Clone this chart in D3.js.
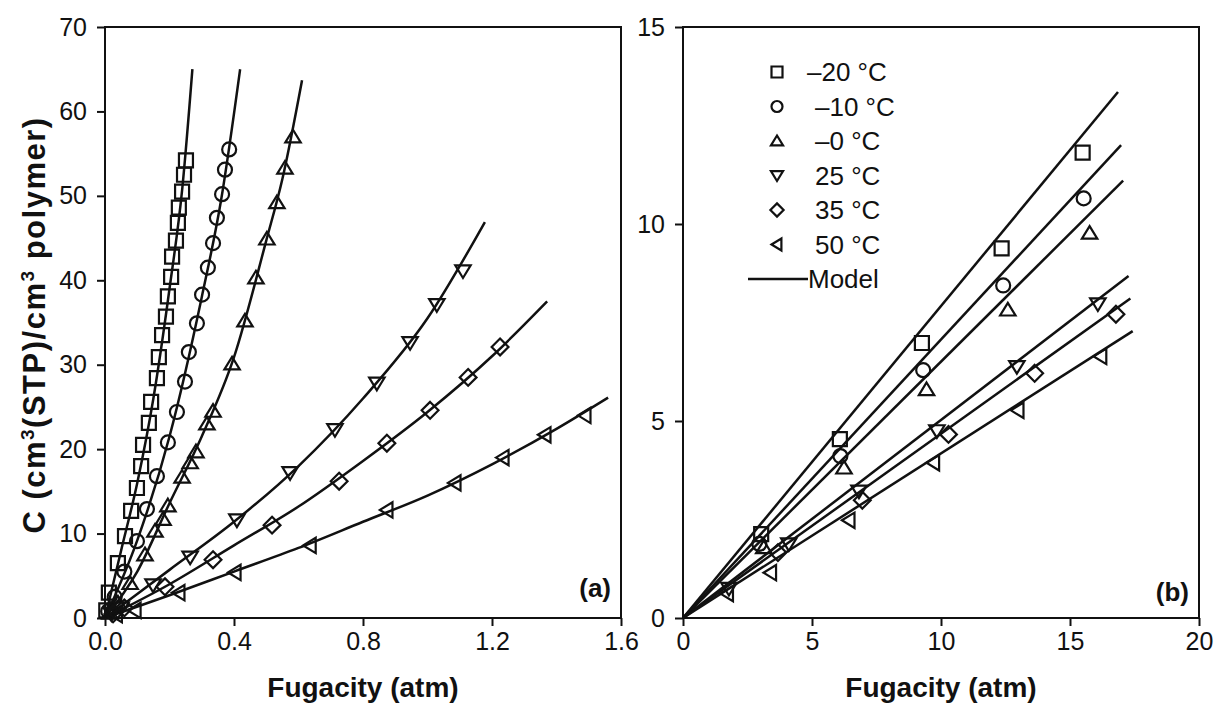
<!DOCTYPE html>
<html>
  <head>
    <meta charset="utf-8">
    <script src="https://d3js.org/d3.v7.min.js"></script>
    <style>
      body { margin: 0; background: white; }
      text { font-family: "Liberation Sans", Arial, sans-serif; fill: #111; }
      .axis text { font-size: 25px; }
      .axis path, .axis line { stroke: #111; stroke-width: 2px; }
      .frame { fill: none; stroke: #111; stroke-width: 2px; }
      .model { fill: none; stroke: #111; stroke-width: 2.5px; }
      .marker { fill: none; stroke: #111; stroke-width: 2.2px; }
    </style>
  </head>
  <body>
    <div id="chart"></div>
<script>

// legend / series
var seriesNames = ["\u201320 \u00B0C", "\u201310 \u00B0C", "\u20130 \u00B0C", "25 \u00B0C", "35 \u00B0C", "50 \u00B0C"];
var markerTypes = ["square", "circle", "up", "down", "diamond", "left"];

// panel (a): fugacity (atm) vs C
var aM20 = [[0.004,0.9],[0.012,3.0],[0.040,6.5],[0.062,9.7],[0.081,12.7],[0.099,15.4],[0.112,18.0],[0.118,20.5],[0.136,23.1],[0.143,25.6],[0.161,28.4],[0.167,30.9],[0.177,33.5],[0.189,35.7],[0.195,38.1],[0.205,40.4],[0.208,42.8],[0.220,44.7],[0.226,46.8],[0.229,48.6],[0.239,50.5],[0.245,52.5],[0.251,54.2]];
var aM10 = [[0.010,0.8],[0.030,2.5],[0.060,5.5],[0.099,9.1],[0.130,12.9],[0.161,16.8],[0.195,20.8],[0.223,24.4],[0.248,28.0],[0.260,31.5],[0.285,34.9],[0.301,38.3],[0.319,41.5],[0.335,44.4],[0.347,47.4],[0.363,50.2],[0.372,53.1],[0.385,55.5]];
var a0 = [[0.015,0.6],[0.040,1.8],[0.078,4.1],[0.124,7.5],[0.155,10.3],[0.180,11.7],[0.195,13.3],[0.239,16.7],[0.264,18.4],[0.282,19.7],[0.316,23.0],[0.335,24.5],[0.394,30.1],[0.434,35.2],[0.468,40.3],[0.502,44.9],[0.533,49.2],[0.558,53.3],[0.583,57.0]];
var a25 = [[0.020,0.5],[0.050,1.2],[0.149,3.9],[0.264,7.2],[0.409,11.6],[0.574,17.2],[0.713,22.3],[0.843,27.8],[0.946,32.6],[1.029,37.1],[1.110,41.1]];
var a35 = [[0.025,0.5],[0.060,1.2],[0.186,3.7],[0.335,6.9],[0.518,11.0],[0.726,16.2],[0.874,20.7],[1.008,24.6],[1.126,28.5],[1.225,32.1]];
var a50 = [[0.035,0.4],[0.093,0.9],[0.229,3.0],[0.403,5.4],[0.636,8.6],[0.874,12.8],[1.085,16.0],[1.234,19.0],[1.364,21.7],[1.488,24.0]];

var aModelM20 = [[0,0],[0.05,8],[0.10,16],[0.15,26],[0.20,39],[0.24,51],[0.271,65]];
var aModelM10 = [[0,0],[0.10,9.2],[0.20,21.5],[0.30,38],[0.36,49.5],[0.419,65]];
var aModel0 = [[0,0],[0.10,5.5],[0.20,13.6],[0.30,21.5],[0.40,30.9],[0.50,44.7],[0.55,52],[0.611,63.7]];
var aModel25 = [[0,0],[0.2,5.7],[0.4,11.4],[0.6,18],[0.8,26],[1.0,35.5],[1.178,46.9]];
var aModel35 = [[0,0],[0.2,4],[0.4,8.6],[0.6,13.2],[0.8,18.6],[1.0,24.4],[1.2,31],[1.371,37.5]];
var aModel50 = [[0,0],[0.2,2.7],[0.4,5.5],[0.6,8.3],[0.8,11.4],[1.0,14.5],[1.2,18.2],[1.4,22.4],[1.56,26.1]];

// panel (b)
var bM20 = [[3.03,2.13],[6.08,4.54],[9.26,6.98],[12.35,9.38],[15.49,11.81]];
var bM10 = [[2.96,1.88],[6.10,4.11],[9.31,6.29],[12.41,8.44],[15.53,10.65]];
var b0 = [[3.13,1.79],[6.24,3.81],[9.44,5.80],[12.59,7.82],[15.76,9.77]];
var b25 = [[1.78,0.75],[4.10,1.88],[6.82,3.22],[9.84,4.75],[12.94,6.38],[16.08,7.97]];
var b35 = [[3.68,1.66],[6.95,2.99],[10.29,4.66],[13.63,6.21],[16.78,7.71]];
var b50 = [[1.72,0.62],[3.39,1.15],[6.43,2.48],[9.71,3.94],[12.98,5.27],[16.19,6.64]];

var bModelM20 = [[0,0],[16.86,13.35]];
var bModelM10 = [[0,0],[16.98,12.0]];
var bModel0 = [[0,0],[17.06,11.10]];
var bModel25 = [[0,0],[17.27,8.68]];
var bModel35 = [[0,0],[17.34,8.11]];
var bModel50 = [[0,0],[17.43,7.28]];

var aXTicks = [0, 0.4, 0.8, 1.2, 1.6];
var aYTicks = [0, 10, 20, 30, 40, 50, 60, 70];
var bXTicks = [0, 5, 10, 15, 20];
var bYTicks = [0, 5, 10, 15];

var width = 1215, height = 705;

var svg = d3.select("#chart").append("svg")
  .attr("width", width)
  .attr("height", height);

function markerPath(type, s) {
  var h = s / 2;
  if (type == "square") return "M" + (-h) + "," + (-h) + "h" + s + "v" + s + "h" + (-s) + "Z";
  if (type == "circle") return "M" + h + ",0A" + h + "," + h + " 0 1,1 " + (-h) + ",0A" + h + "," + h + " 0 1,1 " + h + ",0Z";
  if (type == "up") return "M0," + (-h) + "L" + (h * 1.1) + "," + (h * 0.8) + "L" + (-h * 1.1) + "," + (h * 0.8) + "Z";
  if (type == "down") return "M0," + h + "L" + (h * 1.1) + "," + (-h * 0.8) + "L" + (-h * 1.1) + "," + (-h * 0.8) + "Z";
  if (type == "left") return "M" + (-h) + ",0L" + (h * 0.8) + "," + (-h * 1.1) + "L" + (h * 0.8) + "," + (h * 1.1) + "Z";
  if (type == "diamond") return "M0," + (-h * 1.2) + "L" + (h * 1.2) + ",0L0," + (h * 1.2) + "L" + (-h * 1.2) + ",0Z";
}

function drawPanel(p) {
  var x = d3.scaleLinear().domain(p.xDomain).range([p.left, p.right]);
  var y = d3.scaleLinear().domain(p.yDomain).range([p.bottom, p.top]);

  var g = svg.append("g");

  g.append("g")
    .attr("class", "axis")
    .attr("transform", "translate(0," + p.bottom + ")")
    .call(d3.axisBottom(x).tickValues(p.xTicks).tickSize(8).tickSizeOuter(0).tickPadding(6).tickFormat(p.xFormat))
    .call(function (a) { a.select(".domain").remove(); });

  g.append("g")
    .attr("class", "axis")
    .attr("transform", "translate(" + p.left + ",0)")
    .call(d3.axisLeft(y).tickValues(p.yTicks).tickSize(8).tickSizeOuter(0).tickPadding(10).tickFormat(d3.format("d")))
    .call(function (a) { a.select(".domain").remove(); });

  g.append("rect")
    .attr("class", "frame")
    .attr("x", p.left).attr("y", p.top)
    .attr("width", p.right - p.left).attr("height", p.bottom - p.top);

  var line = d3.line()
    .x(function (d) { return x(d[0]); })
    .y(function (d) { return y(d[1]); })
    .curve(d3.curveMonotoneX);

  p.models.forEach(function (m) {
    g.append("path").attr("class", "model").attr("d", line(m));
  });

  p.points.forEach(function (pts, i) {
    g.selectAll(null)
      .data(pts).enter()
      .append("path")
      .attr("class", "marker")
      .attr("transform", function (d) { return "translate(" + x(d[0]) + "," + y(d[1]) + ")"; })
      .attr("d", markerPath(markerTypes[i], 14));
  });

  g.append("text")
    .attr("x", (p.left + p.right) / 2)
    .attr("y", 697)
    .attr("text-anchor", "middle")
    .style("font-size", "28px")
    .style("font-weight", "bold")
    .text("Fugacity (atm)");

  g.append("text")
    .attr("x", p.right - 10)
    .attr("y", p.labelY)
    .attr("text-anchor", "end")
    .style("font-size", "26px")
    .style("font-weight", "bold")
    .text(p.label);

  return { x: x, y: y, g: g };
}

drawPanel({
  xDomain: [0, 1.6], yDomain: [0, 70],
  left: 105, right: 621, top: 27, bottom: 618,
  xTicks: aXTicks, yTicks: aYTicks, xFormat: d3.format(".1f"),
  points: [aM20, aM10, a0, a25, a35, a50],
  models: [aModelM20, aModelM10, aModel0, aModel25, aModel35, aModel50],
  label: "(a)", labelY: 597
});

var pb = drawPanel({
  xDomain: [0, 20], yDomain: [0, 15],
  left: 683, right: 1199, top: 27, bottom: 618,
  xTicks: bXTicks, yTicks: bYTicks, xFormat: d3.format("d"),
  points: [bM20, bM10, b0, b25, b35, b50],
  models: [bModelM20, bModelM10, bModel0, bModel25, bModel35, bModel50],
  label: "(b)", labelY: 601
});

// legend
var legY = d3.scalePoint().domain(d3.range(7)).range([72, 279]);
var leg = pb.g.append("g");
seriesNames.forEach(function (name, i) {
  leg.append("path")
    .attr("class", "marker")
    .attr("transform", "translate(777," + legY(i) + ")")
    .attr("d", markerPath(markerTypes[i], 11));
  leg.append("text")
    .attr("x", i == 0 ? 807 : 815)
    .attr("y", legY(i) + 9)
    .style("font-size", "26px")
    .text(name);
});
leg.append("line")
  .attr("x1", 748).attr("x2", 808)
  .attr("y1", legY(6)).attr("y2", legY(6))
  .attr("class", "model");
leg.append("text")
  .attr("x", 808)
  .attr("y", legY(6) + 9)
  .style("font-size", "26px")
  .text("Model");

// y axis title
var yt = svg.append("text")
  .attr("transform", "translate(45,325) rotate(-90)")
  .attr("text-anchor", "middle")
  .style("font-size", "31px")
  .style("letter-spacing", "1.5px")
  .style("font-weight", "bold");
yt.append("tspan").text("C (cm");
yt.append("tspan").attr("dy", -11).style("font-size", "19px").text("3");
yt.append("tspan").attr("dy", 11).text("(STP)/cm");
yt.append("tspan").attr("dy", -11).style("font-size", "19px").text("3");
yt.append("tspan").attr("dy", 11).text(" polymer)");

</script>
  </body>
</html>
